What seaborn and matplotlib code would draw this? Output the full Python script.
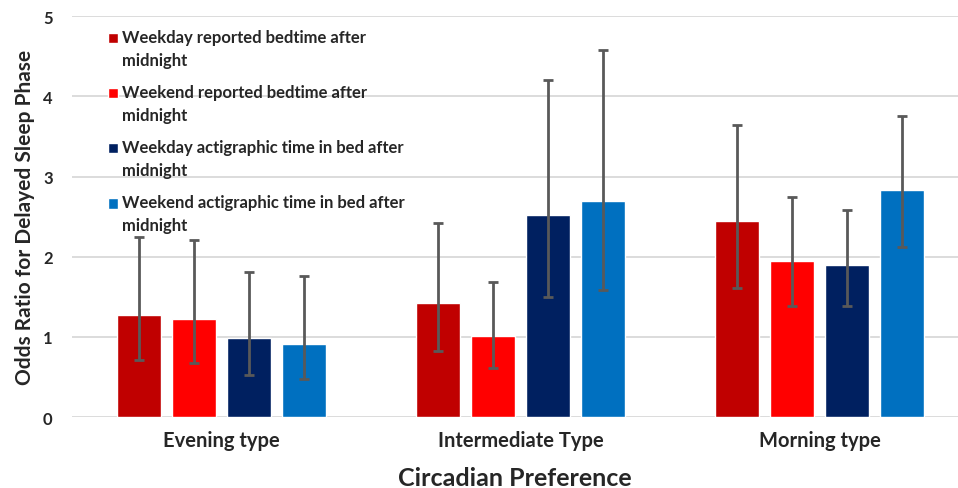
import pandas as pd
import seaborn as sns
import matplotlib.pyplot as plt

categories = ["Evening type", "Intermediate Type", "Morning type"]
measures = [
    "Weekday reported bedtime after\nmidnight",
    "Weekend reported bedtime after\nmidnight",
    "Weekday actigraphic time in bed after\nmidnight",
    "Weekend actigraphic time in bed after\nmidnight",
]
colors = ["#C00000", "#FF0000", "#002060", "#0070C0"]

# odds ratio and 95% CI per measure, in category order
odds = [
    [1.27, 1.42, 2.45],
    [1.22, 1.01, 1.95],
    [0.99, 2.52, 1.90],
    [0.91, 2.70, 2.83],
]
ci_low = [
    [0.71, 0.83, 1.61],
    [0.67, 0.61, 1.39],
    [0.53, 1.50, 1.39],
    [0.47, 1.58, 2.12],
]
ci_high = [
    [2.25, 2.42, 3.64],
    [2.21, 1.68, 2.74],
    [1.81, 4.20, 2.58],
    [1.76, 4.58, 3.76],
]

rows = []
for i, m in enumerate(measures):
    for j, c in enumerate(categories):
        rows.append({"Circadian Preference": c, "measure": m, "odds": odds[i][j]})
data = pd.DataFrame(rows)

sns.set_style("white")
plt.rcParams["font.family"] = ["Lato", "DejaVu Sans"]
plt.rcParams["font.weight"] = "bold"

fig = plt.figure(figsize=(9.58, 4.89), dpi=100)
ax = fig.add_axes([0.0752, 0.145, 0.925, 0.82])

sns.barplot(data=data, x="Circadian Preference", y="odds", hue="measure",
            palette=colors, saturation=1, width=0.736, gap=0.2,
            errorbar=None, ax=ax)

bar_groups = list(ax.containers)
for i, cont in enumerate(bar_groups):
    xs = [p.get_x() + p.get_width() / 2 for p in cont.patches]
    ys = odds[i]
    lo = [y - l for y, l in zip(ys, ci_low[i])]
    hi = [h - y for y, h in zip(ys, ci_high[i])]
    ax.errorbar(xs, ys, yerr=[lo, hi], fmt="none", ecolor="#595959",
                elinewidth=2, capsize=3.5, capthick=2, zorder=5)

ax.set_ylim(0, 5)
ax.set_xlim(-0.5, 2.463)
ax.set_yticks(range(6))
ax.yaxis.grid(True, color="#d9d9d9", linewidth=1.3)
ax.set_axisbelow(True)
for s in ax.spines.values():
    s.set_visible(False)
ax.tick_params(axis="both", length=0)
ax.tick_params(axis="y", labelsize=12, pad=14)
ax.tick_params(axis="x", labelsize=14.5, pad=9)
ax.set_ylabel("Odds Ratio for Delayed Sleep Phase", fontsize=15, fontweight="bold",
              labelpad=6)
ax.set_xlabel("Circadian Preference", fontsize=18, fontweight="bold", labelpad=12)

leg = ax.legend(loc="upper left", bbox_to_anchor=(0.033, 0.985), frameon=False,
                fontsize=12, handlelength=0.6, handleheight=0.6,
                handletextpad=0.25, labelspacing=0.96, borderaxespad=0)
for t in leg.get_texts():
    t.set_linespacing(1.55)
for h in leg.legend_handles:
    h.set_y(h.get_y() + 8)

fig.savefig("out.png", dpi=100)
